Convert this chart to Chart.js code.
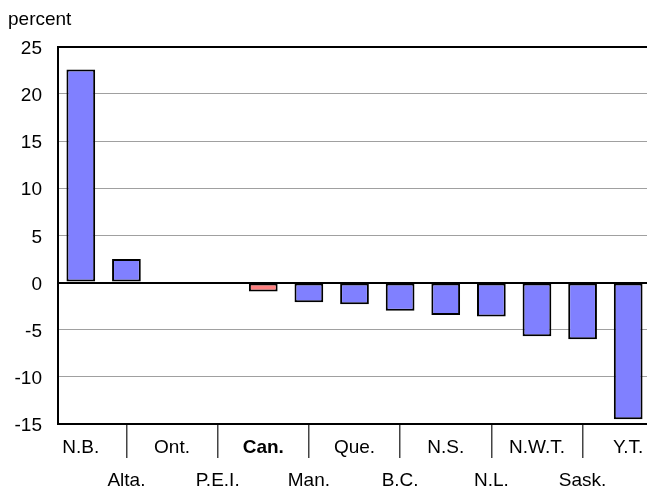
<!DOCTYPE html>
<html>
<head>
<meta charset="utf-8">
<script src="https://cdn.jsdelivr.net/npm/chart.js@4.4.1/dist/chart.umd.min.js"></script>
<style>
  html, body { margin: 0; padding: 0; background: #fff; overflow: hidden; }
  #wrap { position: absolute; left: 0; top: 0; width: 651px; height: 498px; }
</style>
</head>
<body>
<div id="wrap"><canvas id="chart"></canvas></div>
<script>
// provinces, sorted by change
const regions = ['N.B.', 'Alta.', 'Ont.', 'P.E.I.', 'Can.', 'Man.', 'Que.', 'B.C.', 'N.S.', 'N.L.', 'N.W.T.', 'Sask.', 'Y.T.'];
const change = [22.6, 2.5, 0, -0.15, -0.95, -2.1, -2.3, -3.0, -3.45, -3.6, -5.7, -6.0, -14.5];
const yTicks = [-15, -10, -5, 0, 5, 10, 15, 20, 25];
const highlight = 'Can.';

const FONT = "'Liberation Sans', Arial, sans-serif";

// every second label goes on the lower row
const xLabels = regions.map((r, i) => i % 2 === 0 ? r : ['', r]);

new Chart('chart', {
    type: 'bar',
    data: {
        labels: xLabels,
        datasets: [{
            data: change,
            backgroundColor: regions.map(r => r === highlight ? '#ff8080' : '#8080ff'),
            borderColor: '#000',
            borderWidth: 2,
            borderSkipped: false,
            categoryPercentage: 1,
            barPercentage: 0.63
        }]
    },
    options: {
        responsive: true,
        maintainAspectRatio: false,
        animation: false,
        layout: { padding: { top: 8, left: 8, right: 0, bottom: 0 } },
        plugins: {
            legend: { display: false },
            tooltip: { enabled: false },
            title: {
                display: true,
                text: 'percent',
                align: 'start',
                color: '#000',
                font: { family: FONT, size: 19, weight: 'normal', lineHeight: 1.2 },
                padding: { top: 0, bottom: 16 }
            }
        },
        scales: {
            y: {
                min: -15,
                max: 25,
                afterBuildTicks: s => { s.ticks = yTicks.map(v => ({ value: v })); },
                afterFit: s => { s.width = 50; },
                border: { display: true, color: '#000', width: 2 },
                grid: {
                    drawTicks: false,
                    color: ctx => (ctx.tick && (ctx.tick.value === 0 || ctx.tick.value === 25)) ? '#000' : '#a0a0a0',
                    lineWidth: ctx => (ctx.tick && (ctx.tick.value === 0 || ctx.tick.value === 25)) ? 2 : 1
                },
                ticks: {
                    color: '#000',
                    padding: 16,
                    labelOffset: 2,
                    font: { family: FONT, size: 19 }
                }
            },
            x: {
                afterFit: s => { s.height = 74; },
                border: { display: true, color: '#000', width: 2 },
                grid: {
                    offset: false,
                    drawOnChartArea: false,
                    drawTicks: true,
                    tickLength: 34,
                    color: ctx => ctx.index % 2 === 1 ? '#444' : 'rgba(0,0,0,0)',
                    lineWidth: 1.5
                },
                ticks: {
                    color: '#000',
                    autoSkip: false,
                    maxRotation: 0,
                    padding: -26.5,
                    font: ctx => ({
                        family: FONT,
                        size: 19,
                        lineHeight: 1.74,
                        weight: regions[ctx.index] === highlight ? 'bold' : 'normal'
                    })
                }
            }
        }
    }
});
</script>
</body>
</html>
